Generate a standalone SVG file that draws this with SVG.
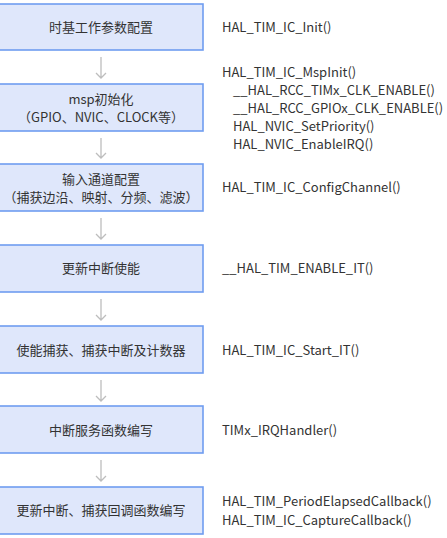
<svg xmlns="http://www.w3.org/2000/svg" width="447" height="538" viewBox="0 0 447 538">
<style>
.box rect{fill:#dfe7fb;stroke:#6f9df0;stroke-width:1.6}
.box text{font-family:"Noto Sans CJK SC","Noto Sans",sans-serif;font-size:13px;fill:#333;text-anchor:middle}
.api{font-family:"Noto Sans CJK SC","Noto Sans",sans-serif;font-size:13px;fill:#333}
.conn path{fill:none;stroke:#bdbdbd;stroke-width:1.3}
</style>
<rect width="447" height="538" fill="#fff"/>
<g class="conn">
<path d="M101 57V78M96 73l5 5 5-5"/>
<path d="M101 138V158M96 153l5 5 5-5"/>
<path d="M101 218V239M96 234l5 5 5-5"/>
<path d="M101 299V320M96 315l5 5 5-5"/>
<path d="M101 380V401M96 396l5 5 5-5"/>
<path d="M101 460V481M96 476l5 5 5-5"/>
</g>
<g id="n1" class="box"><rect x="-1" y="4" width="204" height="46"/><text x="101" y="32">时基工作参数配置</text></g>
<g id="n2" class="box"><rect x="-1" y="84" width="204" height="47"/><text x="101" y="104">msp初始化</text><text x="101" y="122">（GPIO、NVIC、CLOCK等）</text></g>
<g id="n3" class="box"><rect x="-1" y="164" width="204" height="47"/><text x="101" y="184">输入通道配置</text><text x="101" y="202">（捕获边沿、映射、分频、滤波）</text></g>
<g id="n4" class="box"><rect x="-1" y="245" width="204" height="47"/><text x="101" y="273">更新中断使能</text></g>
<g id="n5" class="box"><rect x="-1" y="326" width="204" height="47"/><text x="101" y="355">使能捕获、捕获中断及计数器</text></g>
<g id="n6" class="box"><rect x="-1" y="406" width="204" height="47"/><text x="101" y="435">中断服务函数编写</text></g>
<g id="n7" class="box"><rect x="-1" y="487" width="204" height="47"/><text x="101" y="515">更新中断、捕获回调函数编写</text></g>
<g id="apis">
<text class="api" x="222" y="32">HAL_TIM_IC_Init()</text>
<text class="api" x="222" y="77">HAL_TIM_IC_MspInit()</text>
<text class="api" x="233" y="95">__HAL_RCC_TIMx_CLK_ENABLE()</text>
<text class="api" x="233" y="113">__HAL_RCC_GPIOx_CLK_ENABLE()</text>
<text class="api" x="233" y="131">HAL_NVIC_SetPriority()</text>
<text class="api" x="233" y="149">HAL_NVIC_EnableIRQ()</text>
<text class="api" x="222" y="192">HAL_TIM_IC_ConfigChannel()</text>
<text class="api" x="222" y="273">__HAL_TIM_ENABLE_IT()</text>
<text class="api" x="222" y="355">HAL_TIM_IC_Start_IT()</text>
<text class="api" x="222" y="435">TIMx_IRQHandler()</text>
<text class="api" x="222" y="506">HAL_TIM_PeriodElapsedCallback()</text>
<text class="api" x="222" y="525">HAL_TIM_IC_CaptureCallback()</text>
</g>
</svg>
